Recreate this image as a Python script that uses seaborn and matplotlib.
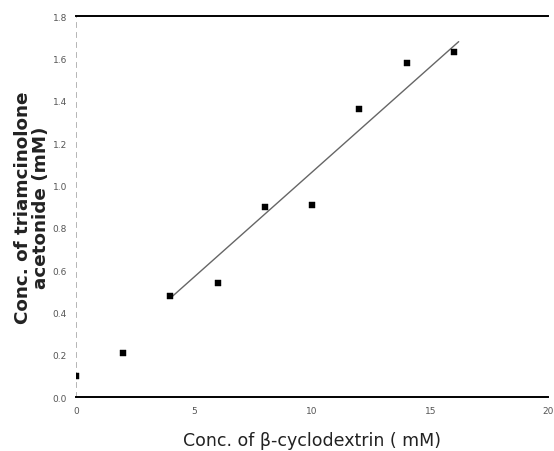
import matplotlib
matplotlib.use("Agg")
import matplotlib.pyplot as plt
import seaborn as sns
import numpy as np
import pandas as pd

# Data
cd_conc = [0, 2, 4, 6, 8, 10, 12, 14, 16]
ta_conc = [0.10, 0.21, 0.48, 0.54, 0.90, 0.91, 1.36, 1.58, 1.63]
fit_slope = 0.0993
fit_intercept = 0.071
fit_x = [4.0, 16.2]
x_ticks = [0, 5, 10, 15, 20]
y_ticks = [0.0, 0.2, 0.4, 0.6, 0.8, 1.0, 1.2, 1.4, 1.6, 1.8]

sns.set_style("white")
plt.rcParams['font.family'] = ['DejaVu Sans']

fig = plt.figure(figsize=(5.54, 4.52), dpi=100)
ax = fig.add_axes([0.137, 0.119, 0.853, 0.843])

df = pd.DataFrame({"x": cd_conc, "y": ta_conc})
sns.scatterplot(data=df, x="x", y="y", marker="s", s=15, color="black",
                edgecolor="black", ax=ax, zorder=3)

fx = np.array(fit_x)
fit_df = pd.DataFrame({"x": fx, "y": fit_intercept + fit_slope * fx})
sns.lineplot(data=fit_df, x="x", y="y", color="#666666", lw=1.0, ax=ax)

ax.set_xlim(0, 20)
ax.set_ylim(0, 1.8)
ax.set_xticks(x_ticks)
ax.set_xticklabels([str(t) for t in x_ticks])
ax.set_yticks(y_ticks)
ax.set_yticklabels([f"{t:.1f}" for t in y_ticks])
ax.tick_params(axis="both", labelsize=6.5, labelcolor="#555555", length=3,
               color="#777777", direction="out")
ax.tick_params(axis="x", length=0, pad=6)

for s in ["top", "bottom"]:
    ax.spines[s].set_color("black")
    ax.spines[s].set_linewidth(1.4)
ax.spines["left"].set_color("#aaaaaa")
ax.spines["left"].set_linewidth(0.6)
ax.spines["left"].set_linestyle((0, (6, 6)))
ax.spines["right"].set_visible(False)

ax.set_xlabel("Conc. of β-cyclodextrin ( mM)", fontsize=12.5, labelpad=12,
              color="#222222")
ax.set_ylabel("Conc. of triamcinolone\nacetonide (mM)", fontsize=13.2,
              fontweight="bold", color="#222222", labelpad=2,
              linespacing=1.0)

fig.savefig("out.png", dpi=100)
